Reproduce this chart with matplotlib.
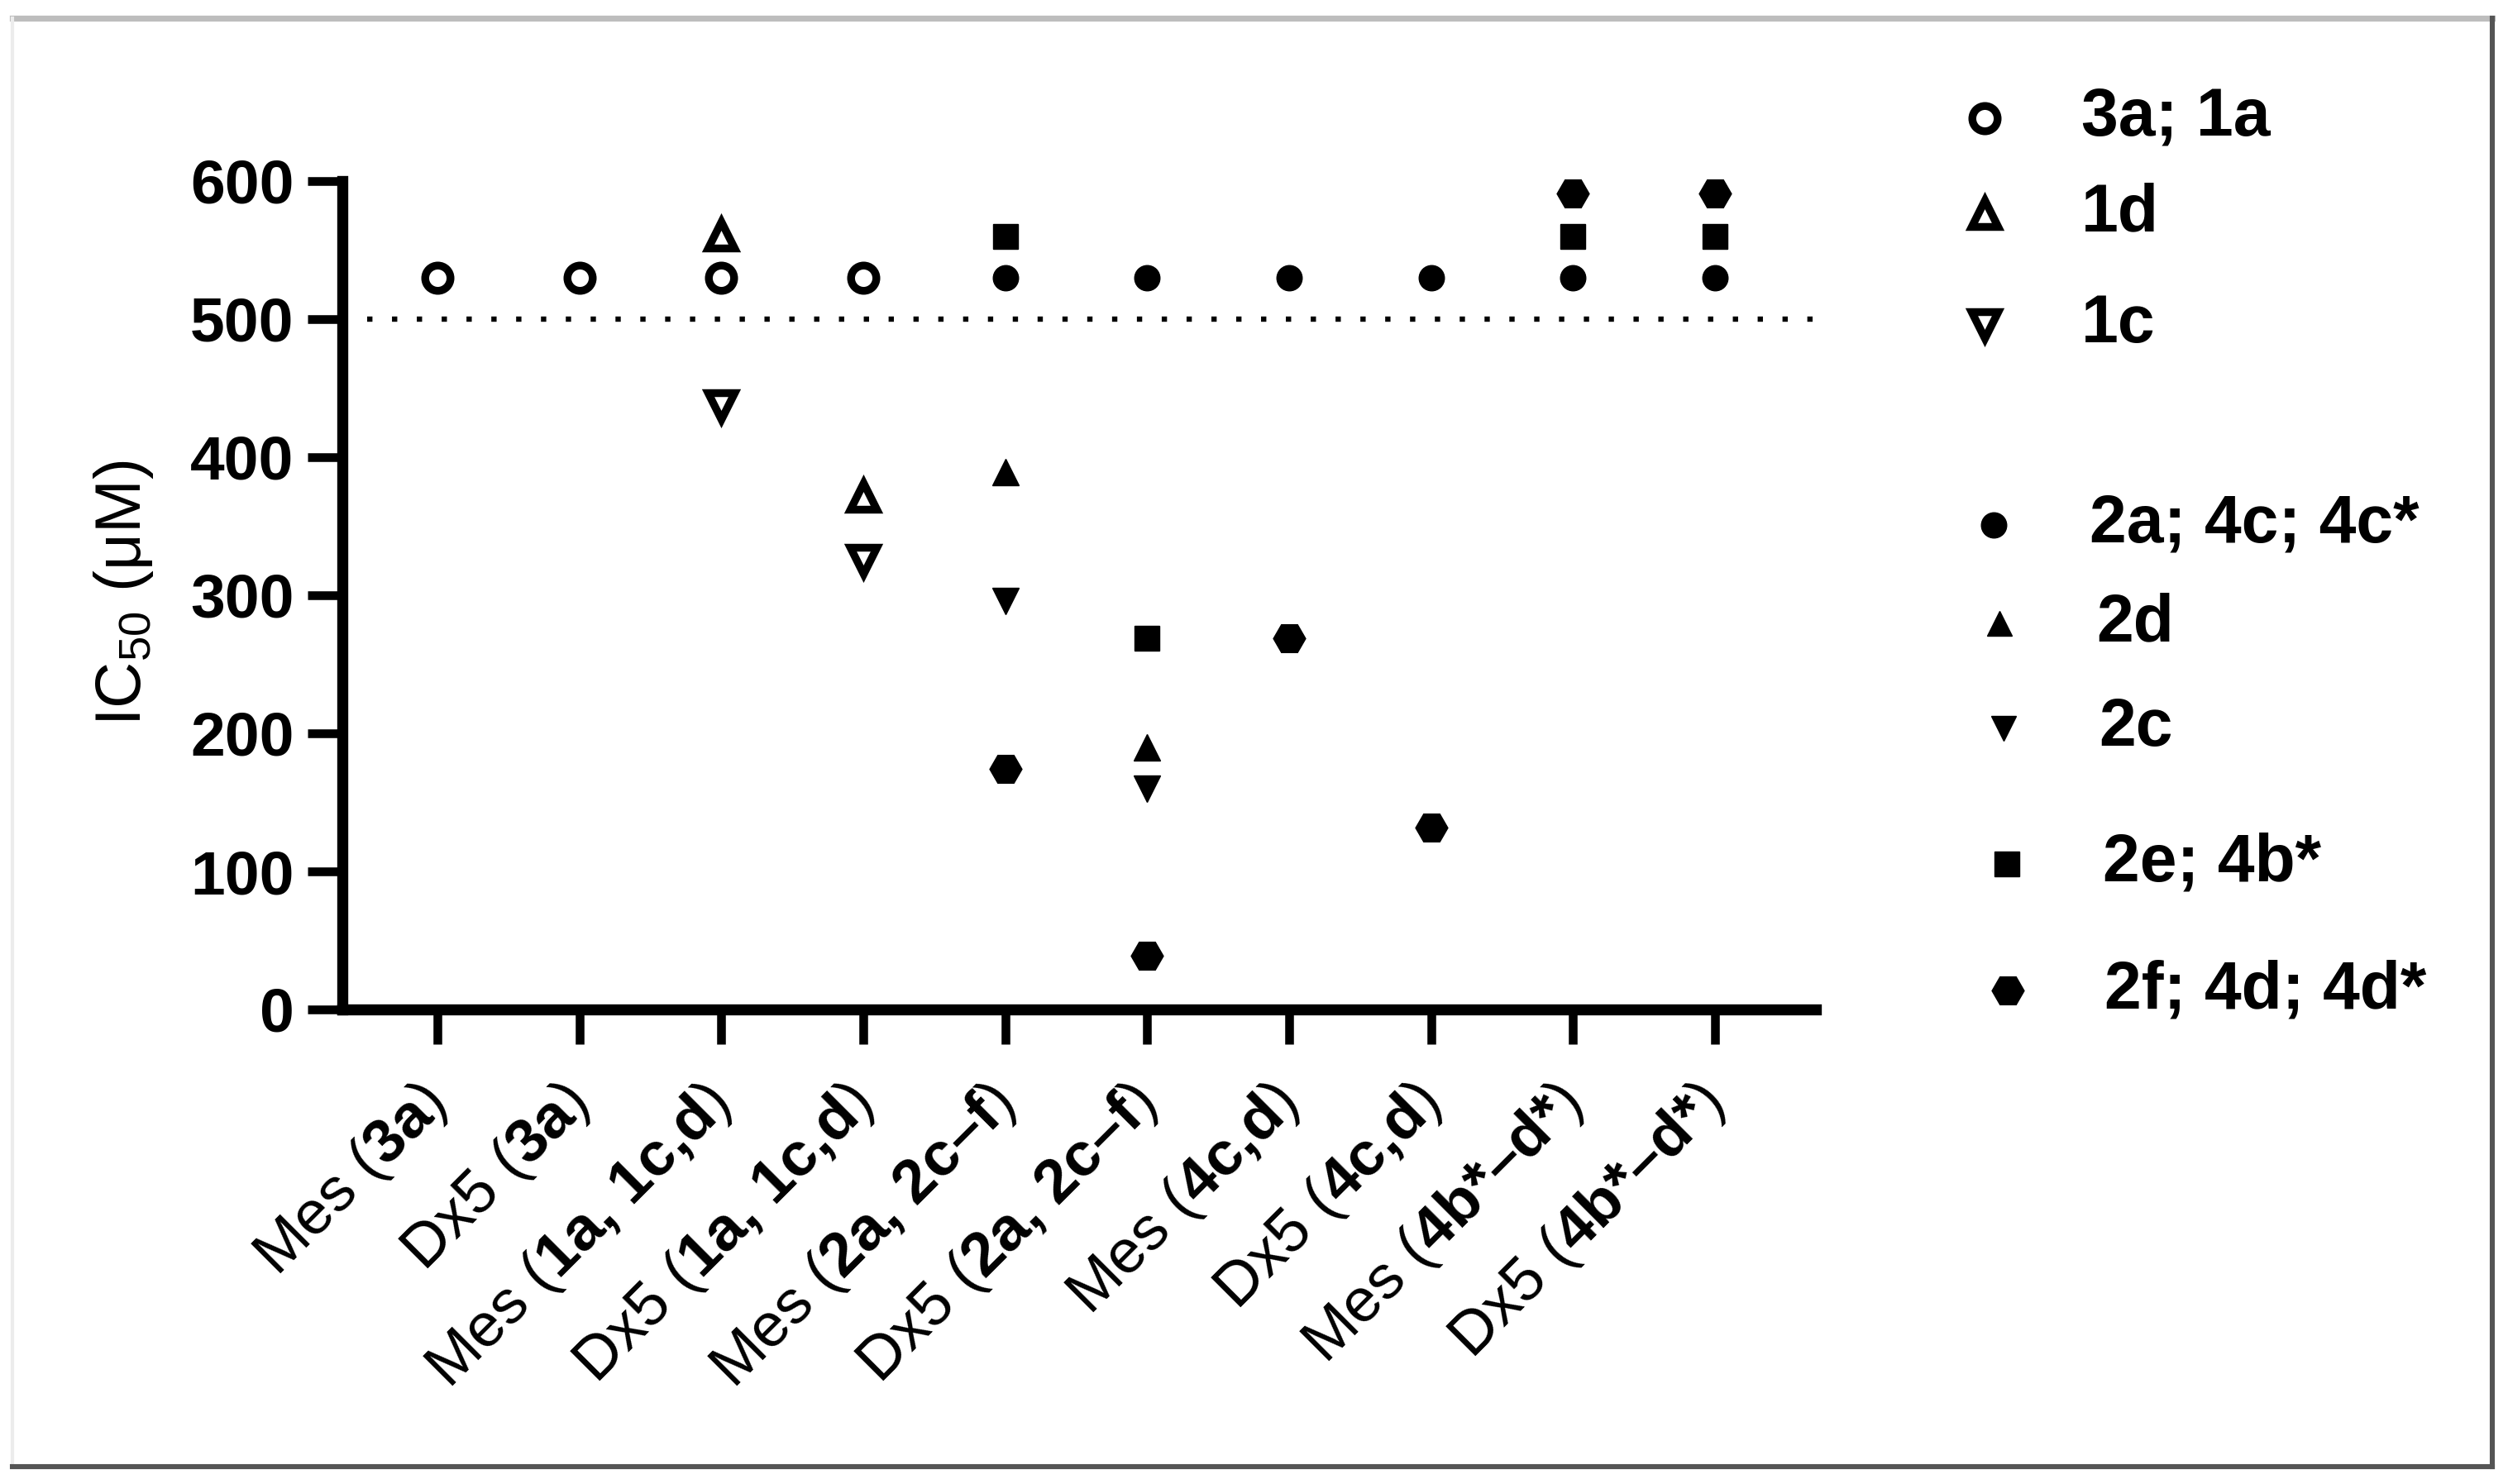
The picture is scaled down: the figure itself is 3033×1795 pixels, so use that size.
import matplotlib.pyplot as plt
from matplotlib.lines import Line2D

plt.rcParams['font.family'] = ['Liberation Sans', 'DejaVu Sans']
plt.rcParams['mathtext.fontset'] = 'custom'
plt.rcParams['mathtext.rm'] = 'Liberation Sans'
plt.rcParams['mathtext.bf'] = 'Liberation Sans:bold'
plt.rcParams['mathtext.it'] = 'Liberation Sans:italic'

# categories on the x axis
categories = [r'Mes ($\mathbf{3a}$)', r'Dx5 ($\mathbf{3a}$)',
              r'Mes ($\mathbf{1a{,}\ 1c{,}d}$)', r'Dx5 ($\mathbf{1a{,}\ 1c{,}d}$)',
              r'Mes ($\mathbf{2a{,}\ 2c–f}$)', r'Dx5 ($\mathbf{2a{,}\ 2c–f}$)',
              r'Mes ($\mathbf{4c{,}d}$)', r'Dx5 ($\mathbf{4c{,}d}$)',
              r'Mes ($\mathbf{4b{*}–d{*}}$)', r'Dx5 ($\mathbf{4b{*}–d{*}}$)']
yticks = [0, 100, 200, 300, 400, 500, 600]
threshold = 500

# series (category index, IC50 value)
x_3a1a = [1, 2, 3, 4]
y_3a1a = [530, 530, 530, 530]
x_1d = [3, 4]
y_1d = [561, 372]
x_1c = [3, 4]
y_1c = [437, 325]
x_2a = [5, 6, 7, 8, 9, 10]
y_2a = [530, 530, 530, 530, 530, 530]
x_2d = [5, 6]
y_2d = [389, 190]
x_2c = [5, 6]
y_2c = [296, 160]
x_2e = [5, 6, 9, 10]
y_2e = [560, 269, 560, 560]
x_2f = [5, 6, 7, 8, 9, 10]
y_2f = [174, 39, 269, 132, 591, 591]

W, H = 3033, 1795
fig = plt.figure(figsize=(W / 200, H / 200), dpi=200)
ax = fig.add_axes([414 / W, 1 - 1221 / H, (2196 - 414) / W, (1221 - 219) / H])

open_kw = dict(linestyle='none', color='black', markerfacecolor='white',
               markeredgewidth=3.4, clip_on=False, zorder=3)
fill_kw = dict(linestyle='none', color='black', markeredgewidth=0.5,
               clip_on=False, zorder=3)

ax.axhline(threshold, color='black', lw=2.3, ls=(0, (1, 3.7)), zorder=1)

ax.plot(x_3a1a, y_3a1a, marker='o', markersize=11, **open_kw)
ax.plot(x_1d, y_1d, marker='^', markersize=11.5, **open_kw)
ax.plot(x_1c, y_1c, marker='v', markersize=11.5, **open_kw)
ax.plot(x_2a, y_2a, marker='o', markersize=11, **fill_kw)
ax.plot(x_2d, y_2d, marker='^', markersize=11.5, **fill_kw)
ax.plot(x_2c, y_2c, marker='v', markersize=11.5, **fill_kw)
ax.plot(x_2e, y_2e, marker='s', markersize=11, **fill_kw)
ax.plot(x_2f, y_2f, marker='H', markersize=14, **fill_kw)

ax.set_xlim(0.33, 10.71)
ax.set_ylim(0, 600)
ax.set_yticks(yticks)
ax.set_xticks(range(1, len(categories) + 1))
ax.set_xticklabels(categories, fontsize=27)
for lbl in ax.get_xticklabels():
    lbl.set_rotation(45)
    lbl.set_ha('right')
    lbl.set_va('center')
    lbl.set_rotation_mode('anchor')
ax.set_yticklabels([str(t) for t in yticks], fontsize=27, fontweight='bold')

for s in ['top', 'right']:
    ax.spines[s].set_visible(False)
for s in ['left', 'bottom']:
    ax.spines[s].set_linewidth(4.8)
ax.tick_params(axis='both', length=15, width=3.8, color='black')
ax.tick_params(axis='y', pad=6)
ax.tick_params(axis='x', pad=22)

# y label placed by hand
fig.text(150 / W, 1 - 717 / H, r'IC$_{\mathregular{50}}$ (μM)', fontsize=28,
         rotation=90, ha='center', va='center')


# legend, laid out like the original (uneven row spacing)
def fx(px):
    return px / W


def fy(py):
    return 1 - py / H


leg_rows = [
    ('o', 11, True, 2400, 143, 2517, '3a; 1a'),
    ('^', 11.5, True, 2400, 258, 2517, '1d'),
    ('v', 11.5, True, 2400, 393, 2517, '1c'),
    ('o', 11, False, 2411, 635, 2527, '2a; 4c; 4c*'),
    ('^', 10.5, False, 2418, 754, 2535, '2d'),
    ('v', 10.5, False, 2423, 881, 2538, '2c'),
    ('s', 11, False, 2427, 1045, 2543, '2e; 4b*'),
    ('H', 14, False, 2428, 1198, 2545, '2f; 4d; 4d*'),
]
for m, ms, hollow, mx, my, tx, txt in leg_rows:
    kw = open_kw if hollow else fill_kw
    kw = {k: v for k, v in kw.items() if k not in ('clip_on', 'zorder', 'linestyle')}
    fig.add_artist(Line2D([fx(mx)], [fy(my)], marker=m, markersize=ms,
                          linestyle='none', transform=fig.transFigure, **kw))
    fig.text(fx(tx), fy(my), txt, fontsize=29, fontweight='bold',
             ha='left', va='center')

# picture frame
fig.add_artist(Line2D([fx(15), fx(3014)], [fy(22), fy(22)], color='#bdbdbd', lw=2.6,
                      transform=fig.transFigure))
fig.add_artist(Line2D([fx(15), fx(15)], [fy(22), fy(1774)], color='#ececec', lw=1.5,
                      transform=fig.transFigure))
fig.add_artist(Line2D([fx(15), fx(3014)], [fy(1774), fy(1774)], color='#555555', lw=2.2,
                      transform=fig.transFigure))
fig.add_artist(Line2D([fx(3014), fx(3014)], [fy(22), fy(1774)], color='#555555', lw=2.2,
                      transform=fig.transFigure))

fig.savefig('out.png', dpi=200, facecolor='white')
